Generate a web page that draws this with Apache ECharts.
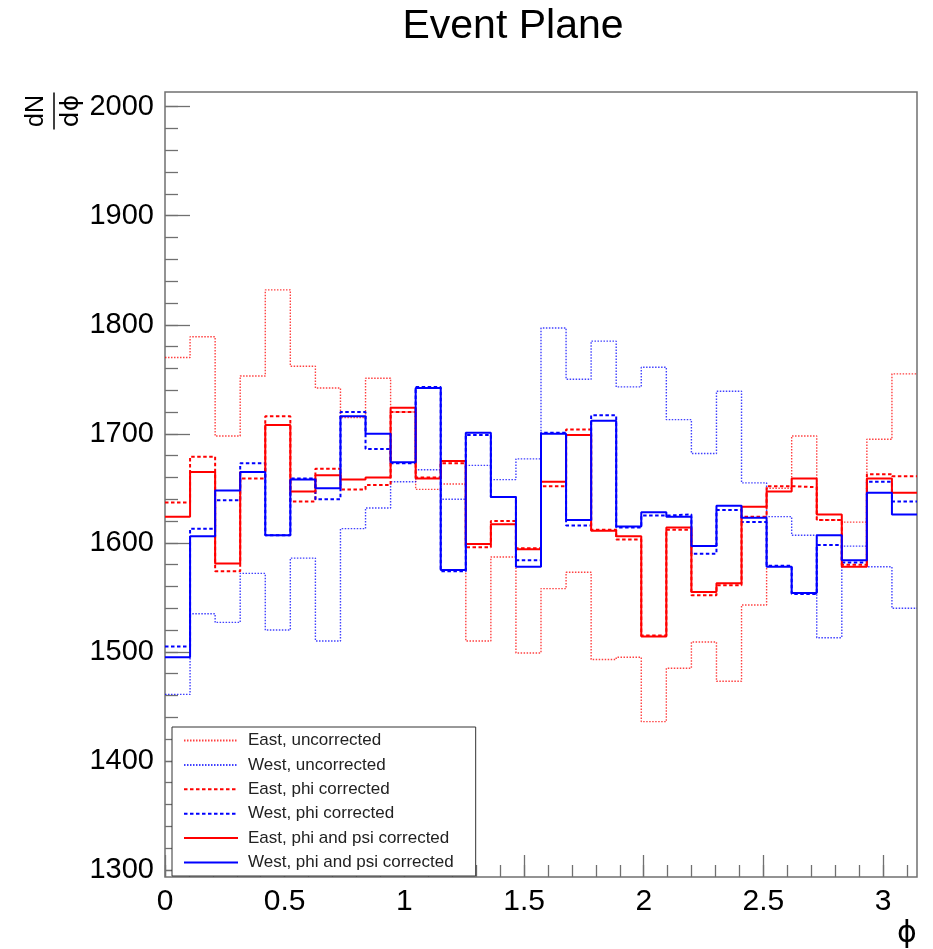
<!DOCTYPE html>
<html>
<head>
<meta charset="utf-8">
<script src="https://cdn.jsdelivr.net/npm/echarts@6/dist/echarts.min.js"></script>
<style>html,body{margin:0;padding:0;background:#fff}#c{width:933px;height:949px}</style>
</head>
<body>
<div id="c"></div>
<script>
// ---- data (30 bins in phi from 0 to pi) ----
const nBins = 30;
const binEdges = Array.from({length: nBins + 1}, (_, i) => i * Math.PI / nBins);

const eastUncorrected = [1770, 1789, 1698, 1753, 1832, 1762, 1742, 1715, 1751, 1720, 1649, 1654, 1510, 1587, 1499, 1558, 1573, 1493, 1495, 1436, 1485, 1509, 1473, 1543, 1650, 1698, 1621, 1619, 1695, 1755];
const westUncorrected = [1461, 1535, 1527, 1572, 1520, 1586, 1510, 1613, 1632, 1656, 1667, 1640, 1671, 1658, 1677, 1797, 1750, 1785, 1743, 1761, 1713, 1682, 1739, 1655, 1624, 1607, 1513, 1597, 1578, 1540];
const eastPhiCorrected = [1637, 1679, 1574, 1659, 1716, 1638, 1668, 1649, 1653, 1720, 1660, 1673, 1596, 1620, 1595, 1652, 1704, 1612, 1603, 1515, 1612, 1552, 1561, 1624, 1652, 1651, 1621, 1580, 1663, 1661];
const westPhiCorrected = [1505, 1613, 1639, 1673, 1607, 1659, 1640, 1720, 1686, 1673, 1743, 1574, 1699, 1642, 1584, 1701, 1616, 1717, 1614, 1625, 1626, 1590, 1630, 1619, 1579, 1553, 1598, 1582, 1656, 1638];
const eastPhiPsiCorrected = [1624, 1665, 1581, 1665, 1708, 1647, 1662, 1658, 1660, 1724, 1659, 1675, 1599, 1617, 1594, 1656, 1699, 1611, 1606, 1514, 1614, 1555, 1563, 1633, 1647, 1659, 1626, 1578, 1659, 1646];
const westPhiPsiCorrected = [1495, 1606, 1648, 1665, 1607, 1658, 1650, 1716, 1700, 1674, 1742, 1575, 1701, 1642, 1578, 1700, 1621, 1712, 1615, 1628, 1624, 1597, 1634, 1623, 1578, 1554, 1607, 1584, 1646, 1626];

const seriesNames = ['East, uncorrected', 'West, uncorrected', 'East, phi corrected', 'West, phi corrected', 'East, phi and psi corrected', 'West, phi and psi corrected'];

const xMajorTicks = [0, 0.5, 1, 1.5, 2, 2.5, 3];
const xMinorTicks = Array.from({length: 32}, (_, i) => +(i * 0.1).toFixed(1));
const yMajorTicks = [1300, 1400, 1500, 1600, 1700, 1800, 1900, 2000];
const yMinorTicks = Array.from({length: 36}, (_, i) => 1300 + i * 20);

// ---- build ----
function toSteps(vals) {
  const d = vals.map((v, i) => [binEdges[i], v]);
  d.push([binEdges[nBins], vals[nBins - 1]]);
  return d;
}

const FONT = '"Liberation Sans", Arial, Helvetica, sans-serif';
const RED = '#ff0000', BLUE = '#0000ff';
const frameColor = '#707070';

function histo(name, vals, color, width, type, opacity) {
  return {
    name, type: 'line', step: 'end', symbol: 'none', showSymbol: false, data: toSteps(vals),
    xAxisIndex: 0, yAxisIndex: 0, animation: false, silent: true,
    itemStyle: {color},
    lineStyle: {color, width, type, opacity}
  };
}

const chart = echarts.init(document.getElementById('c'), null, {renderer: 'canvas'});
chart.setOption({
  backgroundColor: '#fff',
  animation: false,
  grid: {left: 165, top: 92, right: 16, bottom: 72, show: true, borderColor: frameColor, borderWidth: 1.5, backgroundColor: 'transparent'},
  xAxis: [
    {type: 'value', min: 0, max: Math.PI, position: 'bottom',
     axisLine: {show: false}, splitLine: {show: false},
     axisTick: {show: true, inside: true, length: 22, customValues: xMajorTicks, lineStyle: {color: frameColor, width: 1.3}},
     axisLabel: {customValues: xMajorTicks, fontSize: 30, color: '#000', fontFamily: FONT, margin: 10, formatter: v => String(v)}},
    {type: 'value', min: 0, max: Math.PI, position: 'bottom',
     axisLine: {show: false}, splitLine: {show: false}, axisLabel: {show: false},
     axisTick: {show: true, inside: true, length: 12, customValues: xMinorTicks, lineStyle: {color: frameColor, width: 1.3}}}
  ],
  yAxis: [
    {type: 'value', min: 1293.5, max: 2013.5, position: 'left',
     axisLine: {show: false}, splitLine: {show: false},
     axisTick: {show: true, inside: true, length: 25, customValues: yMajorTicks, lineStyle: {color: frameColor, width: 1.3}},
     axisLabel: {customValues: yMajorTicks, fontSize: 29, color: '#000', fontFamily: FONT, margin: 11, formatter: v => String(v)}},
    {type: 'value', min: 1293.5, max: 2013.5, position: 'left',
     axisLine: {show: false}, splitLine: {show: false}, axisLabel: {show: false},
     axisTick: {show: true, inside: true, length: 13, customValues: yMinorTicks, lineStyle: {color: frameColor, width: 1.3}}}
  ],
  legend: {
    orient: 'vertical', left: 172, top: 727,
    itemWidth: 54, itemHeight: 14, itemGap: 7.4,
    padding: [5, 22, 5, 11],
    backgroundColor: '#fff', borderColor: '#333', borderWidth: 1,
    itemStyle: {opacity: 0},
    textStyle: {fontSize: 17, color: '#222', fontFamily: FONT, padding: [0, 0, 0, 5]},
    data: seriesNames
  },
  series: [
    histo(seriesNames[0], eastUncorrected, RED, 1.4, [1.5, 1.5], 0.75),
    histo(seriesNames[1], westUncorrected, BLUE, 1.4, [1.5, 1.5], 0.75),
    histo(seriesNames[2], eastPhiCorrected, RED, 2, [3.5, 2.5], 1),
    histo(seriesNames[3], westPhiCorrected, BLUE, 2, [3.5, 2.5], 1),
    histo(seriesNames[4], eastPhiPsiCorrected, RED, 2, 'solid', 1),
    histo(seriesNames[5], westPhiPsiCorrected, BLUE, 2, 'solid', 1)
  ],
  graphic: [
    {type: 'text', x: 513, y: 27, style: {text: 'Event Plane', font: '41px ' + FONT, fill: '#000', align: 'center', verticalAlign: 'middle'}},
    {type: 'text', x: 907, y: 934, style: {text: 'ϕ', font: '30px "DejaVu Sans", ' + FONT, fill: '#000', align: 'center', verticalAlign: 'middle'}},
    {type: 'group', x: 54, y: 111, rotation: Math.PI / 2, children: [
      {type: 'text', x: 0, y: -18, style: {text: 'dN', font: '25px ' + FONT, fill: '#000', align: 'center', verticalAlign: 'middle'}},
      {type: 'line', shape: {x1: -18.5, y1: 0, x2: 18.5, y2: 0}, style: {stroke: '#000', lineWidth: 1.5}},
      {type: 'text', x: 0, y: 17, style: {text: 'dϕ', font: '25px "DejaVu Sans", ' + FONT, fill: '#000', align: 'center', verticalAlign: 'middle'}}
    ]}
  ]
});
</script>
</body>
</html>
